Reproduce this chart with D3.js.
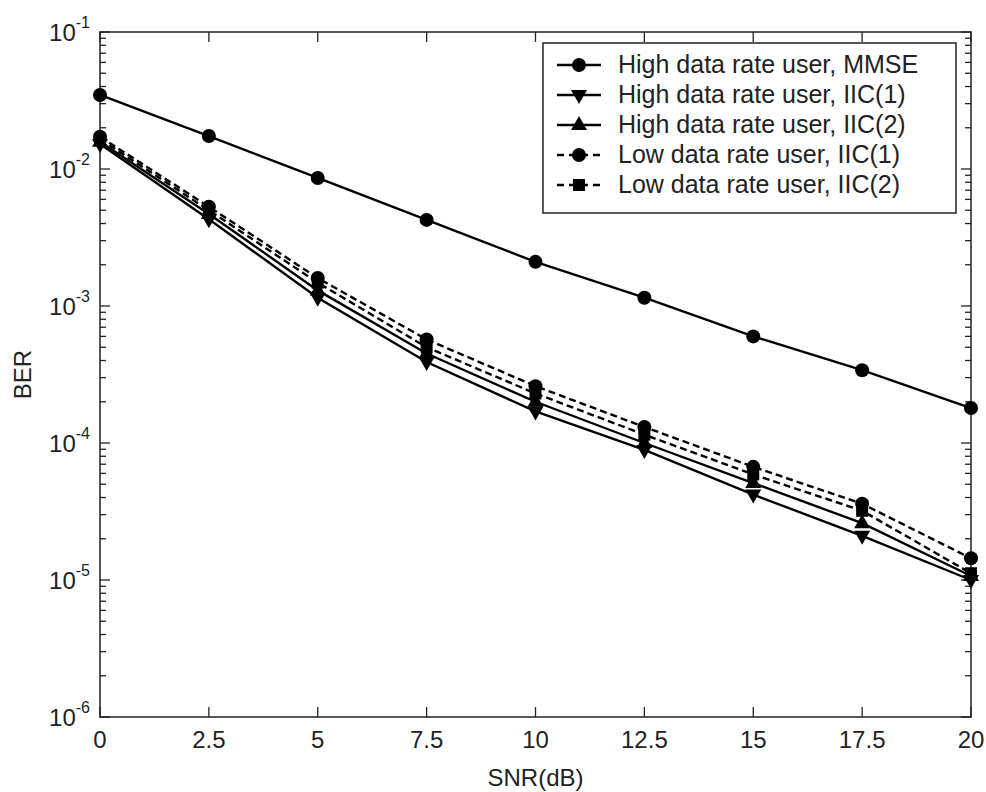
<!DOCTYPE html>
<html><head><meta charset="utf-8">
<script src="https://cdn.jsdelivr.net/npm/d3@7"></script>
<style>body{margin:0;background:#fff}svg{display:block}text{font-family:"Liberation Sans",Arial,sans-serif;fill:#222}</style>
</head><body><svg id="c" width="986" height="792"></svg>
<script>
const snr = [0, 2.5, 5, 7.5, 10, 12.5, 15, 17.5, 20];
const highMMSE = [0.0347, 0.0174, 0.0086, 0.00425, 0.0021, 0.00115, 0.0006, 0.00034, 0.00018];
const highIIC1 = [0.0152, 0.0043, 0.00115, 0.00039, 0.00017, 8.9e-5, 4.2e-5, 2.1e-5, 1.0e-5];
const highIIC2 = [0.0158, 0.0047, 0.0013, 0.00045, 0.0002, 1.0e-4, 5.1e-5, 2.6e-5, 1.07e-5];
const lowIIC1 = [0.0172, 0.0053, 0.0016, 0.00057, 0.00026, 1.31e-4, 6.7e-5, 3.6e-5, 1.44e-5];
const lowIIC2 = [0.0165, 0.005, 0.00148, 0.0005, 0.00023, 1.15e-4, 5.9e-5, 3.2e-5, 1.12e-5];
const seriesNames = ["High data rate user, MMSE", "High data rate user, IIC(1)", "High data rate user, IIC(2)", "Low data rate user, IIC(1)", "Low data rate user, IIC(2)"];
const seriesValues = [highMMSE, highIIC1, highIIC2, lowIIC1, lowIIC2];
const seriesMarkers = ["circle", "down", "up", "circle", "square"];
const seriesDashed = [false, false, false, true, true];
const xTicks = [0, 2.5, 5, 7.5, 10, 12.5, 15, 17.5, 20];
const yExps = [-1, -2, -3, -4, -5, -6];

const L = 100, R = 971, T = 32, B = 717;
const svg = d3.select("#c");
const x = d3.scaleLinear().domain([0, 20]).range([L, R]);
const y = d3.scaleLog().domain([1e-6, 1e-1]).range([B, T]);

svg.append("rect").attr("x", L).attr("y", T).attr("width", R - L).attr("height", B - T)
  .attr("fill", "none").attr("stroke", "#222").attr("stroke-width", 1.5);

const tk = svg.append("g").attr("stroke", "#222").attr("stroke-width", 1.3);
xTicks.forEach(v => {
  tk.append("line").attr("x1", x(v)).attr("x2", x(v)).attr("y1", B).attr("y2", B - 10);
  tk.append("line").attr("x1", x(v)).attr("x2", x(v)).attr("y1", T).attr("y2", T + 10);
  svg.append("text").attr("x", x(v)).attr("y", B + 31).attr("text-anchor", "middle")
    .attr("font-size", 24).text(d3.format("")(v));
});
for (let e = -6; e <= -1; e++) {
  tk.append("line").attr("x1", L).attr("x2", L + 10).attr("y1", y(Math.pow(10, e))).attr("y2", y(Math.pow(10, e)));
  tk.append("line").attr("x1", R).attr("x2", R - 10).attr("y1", y(Math.pow(10, e))).attr("y2", y(Math.pow(10, e)));
  if (e < -1) for (let m = 2; m <= 9; m++) {
    const yy = y(m * Math.pow(10, e));
    tk.append("line").attr("x1", L).attr("x2", L + 6).attr("y1", yy).attr("y2", yy);
    tk.append("line").attr("x1", R).attr("x2", R - 6).attr("y1", yy).attr("y2", yy);
  }
}
yExps.forEach(e => {
  const t = svg.append("text").attr("x", L - 10).attr("y", y(Math.pow(10, e)) + 9).attr("text-anchor", "end").attr("font-size", 24);
  t.append("tspan").text("10");
  t.append("tspan").attr("dy", -13).attr("font-size", 16).text(String(e));
});

svg.append("text").attr("x", (L + R) / 2).attr("y", 786).attr("text-anchor", "middle").attr("font-size", 24).text("SNR(dB)");
svg.append("text").attr("transform", "translate(31," + ((T + B) / 2) + ") rotate(-90)").attr("text-anchor", "middle").attr("font-size", 24).text("BER");

function marker(g, type, cx, cy) {
  if (type === "circle") g.append("circle").attr("cx", cx).attr("cy", cy).attr("r", 7).attr("fill", "#000");
  else if (type === "square") g.append("rect").attr("x", cx - 6).attr("y", cy - 6).attr("width", 12).attr("height", 12).attr("fill", "#000");
  else if (type === "down") g.append("path").attr("d", `M${cx - 8},${cy - 5}L${cx + 8},${cy - 5}L${cx},${cy + 9}Z`).attr("fill", "#000");
  else if (type === "up") g.append("path").attr("d", `M${cx - 8},${cy + 5}L${cx + 8},${cy + 5}L${cx},${cy - 9}Z`).attr("fill", "#000");
}

const line = d3.line().x((d, i) => x(snr[i])).y(d => y(d));
const plot = svg.append("g");
seriesValues.forEach((vals, k) => {
  plot.append("path").datum(vals).attr("d", line).attr("fill", "none").attr("stroke", "#000")
    .attr("stroke-width", 2.4).attr("stroke-dasharray", seriesDashed[k] ? "7,4" : null);
  vals.forEach((v, i) => marker(plot, seriesMarkers[k], x(snr[i]), y(v)));
});

const lg = svg.append("g");
lg.append("rect").attr("x", 543).attr("y", 43).attr("width", 413).attr("height", 170)
  .attr("fill", "#fff").attr("stroke", "#222").attr("stroke-width", 1.5);
seriesNames.forEach((n, k) => {
  const yy = 65 + k * 30;
  lg.append("line").attr("x1", 557).attr("x2", 601).attr("y1", yy).attr("y2", yy)
    .attr("stroke", "#000").attr("stroke-width", 2.4).attr("stroke-dasharray", seriesDashed[k] ? "7,5" : null);
  marker(lg, seriesMarkers[k], 579, yy);
  lg.append("text").attr("x", 618).attr("y", yy + 8).attr("font-size", 25).text(n);
});
</script></body></html>
